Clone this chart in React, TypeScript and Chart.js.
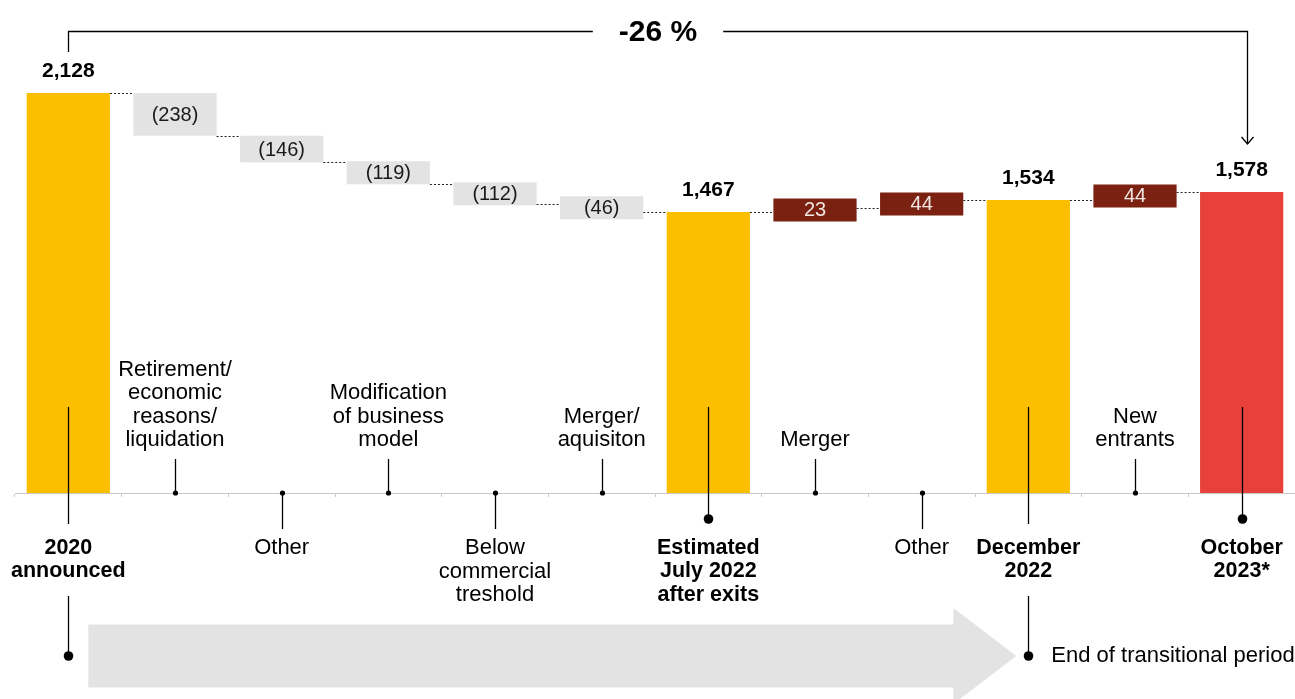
import React, { useEffect, useRef } from "react";
import { Chart, registerables } from "chart.js";

Chart.register(...registerables);

// ---------- data ----------
const CATEGORIES: string[][] = [
  ["2020", "announced"],
  ["Retirement/", "economic", "reasons/", "liquidation"],
  ["Other"],
  ["Modification", "of business", "model"],
  ["Below", "commercial", "treshold"],
  ["Merger/", "aquisiton"],
  ["Estimated", "July 2022", "after exits"],
  ["Merger"],
  ["Other"],
  ["December", "2022"],
  ["New", "entrants"],
  ["October", "2023*"],
];
const VALUES = [2128, -238, -146, -119, -112, -46, 1467, 23, 44, 1534, 44, 1578];
const IS_TOTAL = [true, false, false, false, false, false, true, false, false, true, false, true];
const LABEL_ABOVE = [false, true, false, true, false, true, false, true, false, false, true, false];
const TIMELINE_START = 0;
const TIMELINE_END = 9;
const TIMELINE_TEXT = "End of transitional period";
const CHANGE_TEXT = "-26 %";
const CHANGE_FROM = 0;
const CHANGE_TO = 11;
const Y_MIN = -94;
const Y_MAX = 2128;

// ---------- styles ----------
const YELLOW = "#FBBF00";
const RED = "#E8403A";
const GREY = "#E3E3E3";
const DARK_RED = "#7A2111";
const FONT = "'Liberation Sans', Arial, Helvetica, sans-serif";
const MIN_H = 23;

const levels: number[] = [];
let run = 0;
const floating: number[][] = VALUES.map((v, i) => {
  if (IS_TOTAL[i]) {
    run = v;
    levels.push(run);
    return [Y_MIN, v];
  }
  const s = run;
  run += v;
  levels.push(run);
  return [s, run];
});
const colors = VALUES.map((v, i) =>
  IS_TOTAL[i] ? (i === VALUES.length - 1 ? RED : YELLOW) : v < 0 ? GREY : DARK_RED
);
const fmt = (v: number) => Math.abs(v).toLocaleString("en-US");

const minHeightPlugin = {
  id: "minHeight",
  afterDatasetsUpdate(chart: any) {
    const meta = chart.getDatasetMeta(0);
    meta.data.forEach((el: any, i: number) => {
      if (IS_TOTAL[i]) return;
      const top = Math.min(el.y, el.base);
      const bot = Math.max(el.y, el.base);
      if (bot - top < MIN_H) {
        const c = (top + bot) / 2;
        el.y = c - MIN_H / 2;
        el.base = c + MIN_H / 2;
      }
    });
  },
};

const annotationPlugin = {
  id: "annotations",
  afterDraw(chart: any) {
    const ctx: CanvasRenderingContext2D = chart.ctx;
    const meta = chart.getDatasetMeta(0);
    const yS = chart.scales.y;
    const base = chart.chartArea.bottom;
    const els = meta.data as any[];
    ctx.save();

    // dotted connectors
    ctx.setLineDash([2, 2]);
    ctx.strokeStyle = "#222";
    ctx.lineWidth = 1;
    for (let i = 0; i < els.length - 1; i++) {
      const a = els[i];
      const b = els[i + 1];
      const y = Math.round(yS.getPixelForValue(levels[i])) + 0.5;
      ctx.beginPath();
      ctx.moveTo(a.x + a.width / 2, y);
      ctx.lineTo(b.x - b.width / 2, y);
      ctx.stroke();
    }
    ctx.setLineDash([]);

    // value labels
    ctx.textAlign = "center";
    ctx.textBaseline = "middle";
    els.forEach((el: any, i: number) => {
      const v = VALUES[i];
      if (IS_TOTAL[i]) {
        ctx.font = `bold 21px ${FONT}`;
        ctx.fillStyle = "#000";
        ctx.fillText(fmt(v), el.x, Math.min(el.y, el.base) - 22);
      } else {
        ctx.font = `20px ${FONT}`;
        ctx.fillStyle = v < 0 ? "#1a1a1a" : "#F2E6E2";
        const c = (el.y + el.base) / 2;
        ctx.fillText(v < 0 ? `(${fmt(v)})` : fmt(v), el.x, c + 1);
      }
    });

    // timeline arrow
    const xs = els[TIMELINE_START].x;
    const xe = els[TIMELINE_END].x;
    const ay = base + 163;
    ctx.fillStyle = GREY;
    ctx.beginPath();
    ctx.moveTo(xs + 20, ay - 31.5);
    ctx.lineTo(xe - 75, ay - 31.5);
    ctx.lineTo(xe - 75, ay - 48);
    ctx.lineTo(xe - 12, ay);
    ctx.lineTo(xe - 75, ay + 48);
    ctx.lineTo(xe - 75, ay + 31.5);
    ctx.lineTo(xs + 20, ay + 31.5);
    ctx.closePath();
    ctx.fill();

    const dot = (x: number, y: number, r: number) => {
      ctx.beginPath();
      ctx.arc(x, y, r, 0, Math.PI * 2);
      ctx.fill();
    };
    const vline = (x: number, y1: number, y2: number) => {
      ctx.beginPath();
      ctx.moveTo(x, y1);
      ctx.lineTo(x, y2);
      ctx.stroke();
    };

    ctx.strokeStyle = "#000";
    ctx.fillStyle = "#000";
    ctx.lineWidth = 1.3;
    const lineH = 23.5;
    els.forEach((el: any, i: number) => {
      const x = Math.round(el.x) + 0.5;
      const lines = CATEGORIES[i];
      if (IS_TOTAL[i]) {
        const timeline = i === TIMELINE_START || i === TIMELINE_END;
        if (timeline) {
          vline(x, base - 86, base + 31);
          vline(x, base + 103, ay);
          dot(x, ay, 4.8);
        } else {
          vline(x, base - 86, base + 26);
          dot(x, base + 26, 4.8);
        }
        ctx.font = `bold 21.5px ${FONT}`;
        lines.forEach((t, k) => ctx.fillText(t, el.x, base + 55 + k * lineH));
      } else if (LABEL_ABOVE[i]) {
        vline(x, base - 34, base);
        dot(x, base, 2.6);
        ctx.font = `22px ${FONT}`;
        const n = lines.length;
        lines.forEach((t, k) => ctx.fillText(t, el.x, base - 53 - (n - 1 - k) * lineH));
      } else {
        vline(x, base, base + 36);
        dot(x, base, 2.6);
        ctx.font = `22px ${FONT}`;
        lines.forEach((t, k) => ctx.fillText(t, el.x, base + 55 + k * lineH));
      }
    });

    // timeline text
    ctx.font = `22px ${FONT}`;
    ctx.textAlign = "left";
    ctx.fillText(TIMELINE_TEXT, xe + 23, ay);

    // change bracket
    const bx1 = Math.round(els[CHANGE_FROM].x) + 0.5;
    const bx2 = Math.round(els[CHANGE_TO].x) + 5.5;
    const by = 31.5;
    ctx.font = `bold 30px ${FONT}`;
    ctx.textAlign = "center";
    const tx = 658;
    const tw = ctx.measureText(CHANGE_TEXT).width;
    ctx.lineWidth = 1.3;
    ctx.beginPath();
    ctx.moveTo(bx1, 52);
    ctx.lineTo(bx1, by);
    ctx.lineTo(tx - tw / 2 - 26, by);
    ctx.moveTo(tx + tw / 2 + 26, by);
    ctx.lineTo(bx2, by);
    ctx.lineTo(bx2, 144);
    ctx.stroke();
    ctx.beginPath();
    ctx.moveTo(bx2 - 6, 137);
    ctx.lineTo(bx2, 144);
    ctx.lineTo(bx2 + 6, 137);
    ctx.stroke();
    ctx.fillText(CHANGE_TEXT, tx, by + 1);

    ctx.restore();
  },
};

export default function App() {
  const ref = useRef<HTMLCanvasElement>(null);
  useEffect(() => {
    document.body.style.margin = "0";
    const chart = new Chart(ref.current as HTMLCanvasElement, {
      type: "bar",
      data: {
        labels: CATEGORIES.map((l) => l.join(" ")),
        datasets: [
          {
            data: floating as any,
            backgroundColor: colors,
            borderWidth: 0,
            barPercentage: 0.78,
            categoryPercentage: 1,
          },
        ],
      },
      options: {
        animation: false,
        responsive: true,
        maintainAspectRatio: false,
        layout: { padding: { top: 93, bottom: 202, left: 15, right: 0 } },
        plugins: { legend: { display: false }, tooltip: { enabled: false } },
        scales: {
          x: {
            offset: true,
            grid: {
              offset: true,
              drawOnChartArea: false,
              drawTicks: true,
              tickLength: 4,
              color: "#c8c8c8",
            },
            border: { color: "#c8c8c8" },
            ticks: { display: false },
          },
          y: { display: false, min: Y_MIN, max: Y_MAX },
        },
      },
      plugins: [minHeightPlugin, annotationPlugin],
    });
    return () => chart.destroy();
  }, []);
  return (
    <div style={{ position: "fixed", left: 0, top: 0, width: 1295, height: 699 }}>
      <canvas ref={ref} />
    </div>
  );
}
